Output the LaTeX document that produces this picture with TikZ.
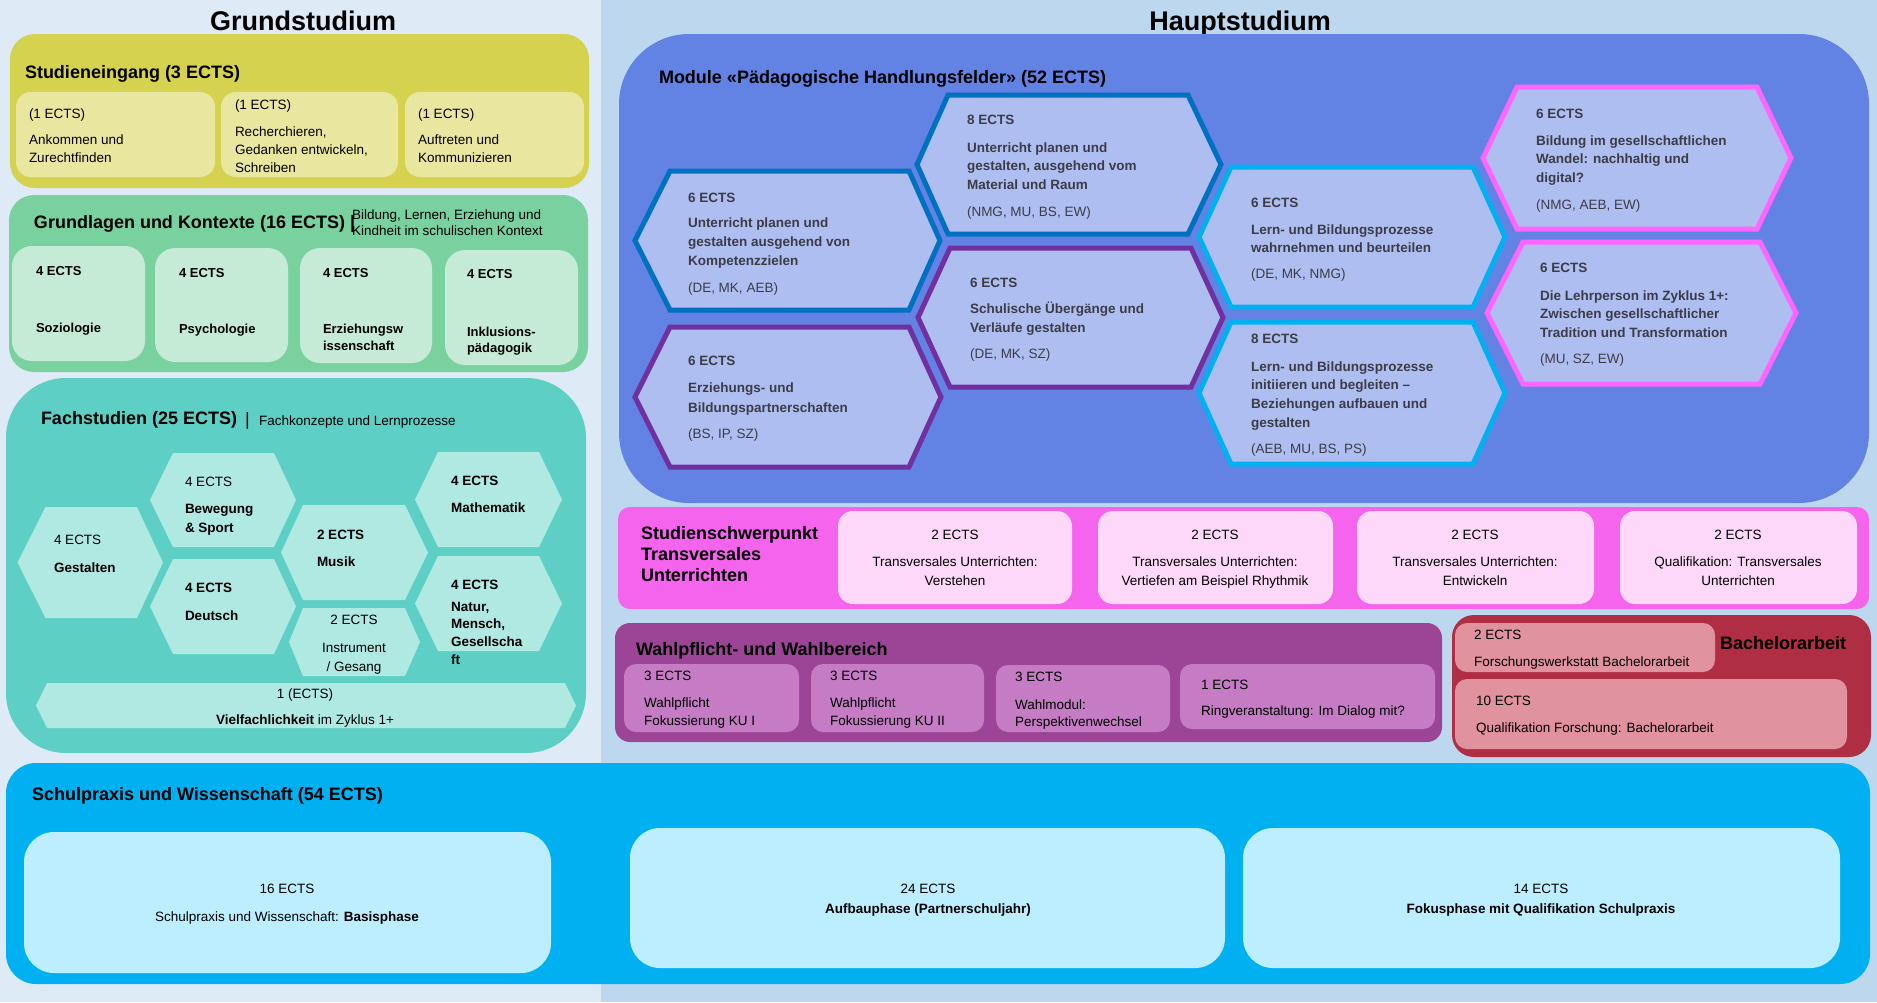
\documentclass[tikz,border=0pt]{standalone}
\usepackage{fontspec}
\setmainfont{Liberation Sans}
\definecolor{bgL}{RGB}{222,234,246}
\definecolor{bgR}{RGB}{189,215,238}
\definecolor{yelB}{RGB}{213,210,80}
\definecolor{yelI}{RGB}{233,230,160}
\definecolor{grnB}{RGB}{121,209,160}
\definecolor{grnI}{RGB}{197,235,214}
\definecolor{tealB}{RGB}{93,207,196}
\definecolor{tealI}{RGB}{176,232,226}
\definecolor{bluB}{RGB}{98,130,228}
\definecolor{hexF}{RGB}{175,190,240}
\definecolor{strDB}{RGB}{0,112,192}
\definecolor{strPu}{RGB}{112,48,160}
\definecolor{strLB}{RGB}{0,176,240}
\definecolor{strPk}{RGB}{255,102,255}
\definecolor{pnkB}{RGB}{244,100,236}
\definecolor{pnkI}{RGB}{253,216,248}
\definecolor{purB}{RGB}{156,68,150}
\definecolor{purI}{RGB}{197,124,196}
\definecolor{redB}{RGB}{176,46,68}
\definecolor{redI}{RGB}{224,146,158}
\definecolor{skyB}{RGB}{0,176,240}
\definecolor{skyI}{RGB}{189,238,255}
\definecolor{hexT}{RGB}{60,60,72}
\newcommand\fsz[2]{\fontsize{#1}{#2}\selectfont}
\newcommand\hexa[7]{\path[#1] ({#2},{(#6+#7)/2}) -- ({#3},{#6}) -- ({#4},{#6}) -- ({#5},{(#6+#7)/2}) -- ({#4},{#7}) -- ({#3},{#7}) -- cycle;}
\tikzset{
  lbl/.style={anchor=base west, align=left, font=\fsz{13.5}{18}},
  lblb/.style={anchor=base west, align=left, font=\fsz{13.5}{18}\bfseries},
  sec/.style={anchor=base west, align=left, font=\fsz{18}{21}\bfseries},
  bigttl/.style={anchor=base, font=\fsz{27}{30}\bfseries},
  hx/.style={lblb, text=hexT},
  hxp/.style={lbl, text=hexT},
  ctr/.style={anchor=base, align=center, font=\fsz{13.5}{19}},
  hexDB/.style={fill=hexF, draw=strDB, line width=5pt, line join=miter},
  hexPu/.style={fill=hexF, draw=strPu, line width=5pt, line join=miter},
  hexLB/.style={fill=hexF, draw=strLB, line width=5pt, line join=miter},
  hexPk/.style={fill=hexF, draw=strPk, line width=5pt, line join=miter},
}
\begin{document}
\begin{tikzpicture}[x=1pt,y=-1pt, every node/.style={inner sep=0pt,outer sep=0pt}]
\useasboundingbox (0,0) rectangle (1877,1002);
\fill[bgL] (0,0) rectangle (601,1002);
\fill[bgR] (601,0) rectangle (1877,1002);

\node[bigttl] (gs) at (303,30) {Grundstudium};
\node[bigttl] (hs) at (1240,30) {Hauptstudium};

% Studieneingang
\fill[yelB, rounded corners=25] (10,34) rectangle (589,188);
\node[sec] (se) at (25,78) {Studieneingang (3 ECTS)};
\fill[yelI, rounded corners=15] (16,92) rectangle (215,177);
\fill[yelI, rounded corners=15] (221,92) rectangle (398,177);
\fill[yelI, rounded corners=15] (405,92) rectangle (584,177);
\node[lbl] (se1a) at (29,118) {(1 ECTS)};
\node[lbl] (se1b) at (29,162) {Ankommen und\\Zurechtfinden};
\node[lbl] (se2a) at (235,109) {(1 ECTS)};
\node[lbl] (se2b) at (235,172) {Recherchieren,\\Gedanken entwickeln,\\Schreiben};
\node[lbl] (se3a) at (418,118) {(1 ECTS)};
\node[lbl] (se3b) at (418,162) {Auftreten und\\Kommunizieren};

% Grundlagen
\fill[grnB, rounded corners=25] (9,195) rectangle (588,372);
\node[sec] (gk) at (34,228) {Grundlagen und Kontexte (16 ECTS) |};
\node[lbl, font=\fsz{13.5}{16}] (gks) at (352,235) {Bildung, Lernen, Erziehung und\\Kindheit im schulischen Kontext};
\fill[grnI, rounded corners=20] (12,246) rectangle (145,361);
\fill[grnI, rounded corners=20] (155,248) rectangle (288,362);
\fill[grnI, rounded corners=20] (300,248) rectangle (432,363);
\fill[grnI, rounded corners=20] (445,250) rectangle (578,365);
\node[lblb, font=\fsz{13}{17}\bfseries] (gk1a) at (36,275) {4 ECTS};
\node[lblb, font=\fsz{13}{17}\bfseries] (gk1b) at (36,332) {Soziologie};
\node[lblb, font=\fsz{13}{17}\bfseries] (gk2a) at (179,277) {4 ECTS};
\node[lblb, font=\fsz{13}{17}\bfseries] (gk2b) at (179,333) {Psychologie};
\node[lblb, font=\fsz{13}{17}\bfseries] (gk3a) at (323,277) {4 ECTS};
\node[lblb, font=\fsz{13}{17}\bfseries] (gk3b) at (323,350) {Erziehungsw\\issenschaft};
\node[lblb, font=\fsz{13}{16}\bfseries] (gk4a) at (467,278) {4 ECTS};
\node[lblb, font=\fsz{13}{16}\bfseries] (gk4b) at (467,352) {Inklusions-\\pädagogik};

% Fachstudien
\fill[tealB, rounded corners=60] (6,378) rectangle (586,753);
\node[sec] (fs) at (41,424) {Fachstudien (25 ECTS)};
\node[anchor=base west, font=\fsz{18}{21}] (fsbar) at (245,425) {|};
\node[lbl] (fss) at (259,425) {Fachkonzepte und Lernprozesse};
\hexa{fill=tealI}{17.5}{45.5}{137}{163}{507}{618}
\hexa{fill=tealI}{150}{173}{274}{296}{453}{547}
\hexa{fill=tealI}{150}{173}{274}{296}{559}{654}
\hexa{fill=tealI}{281}{303}{405}{428}{505}{600}
\hexa{fill=tealI}{289}{303}{405}{420}{608}{676}
\hexa{fill=tealI}{415}{438}{539}{562}{452}{547}
\hexa{fill=tealI}{415}{438}{539}{562}{556}{651}
\hexa{fill=tealI}{36}{47}{565}{576}{683}{728}
\node[lbl] (f1a) at (54,544) {4 ECTS};
\node[lblb] (f1b) at (54,572) {Gestalten};
\node[lbl] (f2a) at (185,486) {4 ECTS};
\node[lblb, font=\fsz{13.5}{19}\bfseries] (f2b) at (185,532) {Bewegung\\\& Sport};
\node[lblb] (f3a) at (185,592) {4 ECTS};
\node[lblb] (f3b) at (185,620) {Deutsch};
\node[lblb] (f4a) at (317,539) {2 ECTS};
\node[lblb] (f4b) at (317,566) {Musik};
\node[ctr] (f5a) at (354,624) {2 ECTS};
\node[ctr] (f5b) at (354,671) {Instrument\\/ Gesang};
\node[lblb] (f6a) at (451,485) {4 ECTS};
\node[lblb] (f6b) at (451,512) {Mathematik};
\node[lblb] (f7a) at (451,589) {4 ECTS};
\node[lblb, font=\fsz{13.5}{17.8}\bfseries] (f7b) at (451,664.4) {Natur,\\Mensch,\\Gesellscha\\ft};
\node[ctr] (f8a) at (305,698) {1 (ECTS)};
\node[ctr] (f8b) at (305,724) {\textbf{Vielfachlichkeit} im Zyklus 1+};

% Module Paedagogische Handlungsfelder
\fill[bluB, rounded corners=70] (619,34) rectangle (1869,503);
\node[sec] (mod) at (659,83) {Module «Pädagogische Handlungsfelder» (52 ECTS)};
\hexa{hexDB}{635}{670}{909}{940}{171}{310}
\hexa{hexDB}{917}{948}{1188}{1221}{95}{234}
\hexa{hexPu}{635}{670}{909}{941}{327}{467}
\hexa{hexPu}{918}{950}{1191}{1223}{248}{387}
\hexa{hexLB}{1199}{1231}{1473}{1505}{167}{307}
\hexa{hexLB}{1199}{1231}{1473}{1505}{322}{464}
\hexa{hexPk}{1483}{1517}{1757}{1791}{87}{229}
\hexa{hexPk}{1487}{1523}{1760}{1796}{242}{384}
\node[hx] (hAa) at (688,202) {6 ECTS};
\node[hx, font=\fsz{13.5}{19}\bfseries] (hAb) at (688,265) {Unterricht planen und\\gestalten ausgehend von\\Kompetenzzielen};
\node[hxp] (hAc) at (688,292) {(DE, MK, AEB)};
\node[hx] (hBa) at (967,124) {8 ECTS};
\node[hx, font=\fsz{13.5}{18.5}\bfseries] (hBb) at (967,189) {Unterricht planen und\\gestalten, ausgehend vom\\Material und Raum};
\node[hxp] (hBc) at (967,216) {(NMG, MU, BS, EW)};
\node[hx] (hCa) at (688,365) {6 ECTS};
\node[hx, font=\fsz{13.5}{20}\bfseries] (hCb) at (688,412) {Erziehungs- und\\Bildungspartnerschaften};
\node[hxp] (hCc) at (688,438) {(BS, IP, SZ)};
\node[hx] (hDa) at (970,287) {6 ECTS};
\node[hx, font=\fsz{13.5}{19}\bfseries] (hDb) at (970,332) {Schulische Übergänge und\\Verläufe gestalten};
\node[hxp] (hDc) at (970,358) {(DE, MK, SZ)};
\node[hx] (hEa) at (1251,207) {6 ECTS};
\node[hx] (hEb) at (1251,252) {Lern- und Bildungsprozesse\\wahrnehmen und beurteilen};
\node[hxp] (hEc) at (1251,278) {(DE, MK, NMG)};
\node[hx] (hFa) at (1251,343) {8 ECTS};
\node[hx, font=\fsz{13.5}{18.7}\bfseries] (hFb) at (1251,427.1) {Lern- und Bildungsprozesse\\initiieren und begleiten –\\Beziehungen aufbauen und\\gestalten};
\node[hxp] (hFc) at (1251,453) {(AEB, MU, BS, PS)};
\node[hx] (hGa) at (1536,118) {6 ECTS};
\node[hx, font=\fsz{13.5}{18.5}\bfseries] (hGb) at (1536,182) {Bildung im gesellschaftlichen\\Wandel: nachhaltig und\\digital?};
\node[hxp] (hGc) at (1536,209) {(NMG, AEB, EW)};
\node[hx] (hHa) at (1540,272) {6 ECTS};
\node[hx, font=\fsz{13.5}{18.5}\bfseries] (hHb) at (1540,337) {Die Lehrperson im Zyklus 1+:\\Zwischen gesellschaftlicher\\Tradition und Transformation};
\node[hxp] (hHc) at (1540,363) {(MU, SZ, EW)};

% Studienschwerpunkt
\fill[pnkB, rounded corners=12] (618,507) rectangle (1869,609);
\node[sec] (ssp) at (641,581) {Studienschwerpunkt\\Transversales\\Unterrichten};
\fill[pnkI, rounded corners=15] (838,511) rectangle (1072,604);
\fill[pnkI, rounded corners=15] (1098,511) rectangle (1333,604);
\fill[pnkI, rounded corners=15] (1357,511) rectangle (1594,604);
\fill[pnkI, rounded corners=15] (1620,511) rectangle (1857,604);
\node[ctr] (ss1a) at (955,539) {2 ECTS};
\node[ctr] (ss1b) at (955,585) {Transversales Unterrichten:\\Verstehen};
\node[ctr] (ss2a) at (1215,539) {2 ECTS};
\node[ctr] (ss2b) at (1215,585) {Transversales Unterrichten:\\Vertiefen am Beispiel Rhythmik};
\node[ctr] (ss3a) at (1475,539) {2 ECTS};
\node[ctr] (ss3b) at (1475,585) {Transversales Unterrichten:\\Entwickeln};
\node[ctr] (ss4a) at (1738,539) {2 ECTS};
\node[ctr] (ss4b) at (1738,585) {Qualifikation: Transversales\\Unterrichten};

% Wahlpflicht
\fill[purB, rounded corners=15] (615,623) rectangle (1442,742);
\node[sec] (wp) at (636,655) {Wahlpflicht- und Wahlbereich};
\fill[purI, rounded corners=12] (624,664) rectangle (799,732);
\fill[purI, rounded corners=12] (811,664) rectangle (984,732);
\fill[purI, rounded corners=12] (996,665) rectangle (1170,732);
\fill[purI, rounded corners=12] (1180,664) rectangle (1435,729);
\node[lbl] (wp1a) at (644,680) {3 ECTS};
\node[lbl] (wp1b) at (644,725) {Wahlpflicht\\Fokussierung KU I};
\node[lbl] (wp2a) at (830,680) {3 ECTS};
\node[lbl] (wp2b) at (830,725) {Wahlpflicht\\Fokussierung KU II};
\node[lbl] (wp3a) at (1015,681) {3 ECTS};
\node[lbl, font=\fsz{13.5}{17}] (wp3b) at (1015,726) {Wahlmodul:\\Perspektivenwechsel};
\node[lbl] (wp4a) at (1201,689) {1 ECTS};
\node[lbl] (wp4b) at (1201,715) {Ringveranstaltung: Im Dialog mit?};

% Bachelorarbeit
\fill[redB, rounded corners=22] (1452,615) rectangle (1871,757);
\fill[redI, rounded corners=12] (1455,623) rectangle (1715,672);
\fill[redI, rounded corners=12] (1455,679) rectangle (1847,749);
\node[sec] (ba) at (1720,649) {Bachelorarbeit};
\node[lbl] (ba1a) at (1474,639) {2 ECTS};
\node[lbl] (ba1b) at (1474,666) {Forschungswerkstatt Bachelorarbeit};
\node[lbl] (ba2a) at (1476,705) {10 ECTS};
\node[lbl] (ba2b) at (1476,732) {Qualifikation Forschung: Bachelorarbeit};

% Schulpraxis
\fill[skyB, rounded corners=30] (6,763) rectangle (1870,984);
\node[sec] (sp) at (32,800) {Schulpraxis und Wissenschaft (54 ECTS)};
\fill[skyI, rounded corners=30] (24,832) rectangle (551,973);
\fill[skyI, rounded corners=30] (630,828) rectangle (1225,968);
\fill[skyI, rounded corners=30] (1243,828) rectangle (1840,968);
\node[ctr] (sp1a) at (287,893) {16 ECTS};
\node[ctr] (sp1b) at (287,921) {Schulpraxis und Wissenschaft: \textbf{Basisphase}};
\node[ctr] (sp2a) at (928,893) {24 ECTS};
\node[ctr] (sp2b) at (928,913) {\textbf{Aufbauphase (Partnerschuljahr)}};
\node[ctr] (sp3a) at (1541,893) {14 ECTS};
\node[ctr] (sp3b) at (1541,913) {\textbf{Fokusphase mit Qualifikation Schulpraxis}};
\end{tikzpicture}
\end{document}
